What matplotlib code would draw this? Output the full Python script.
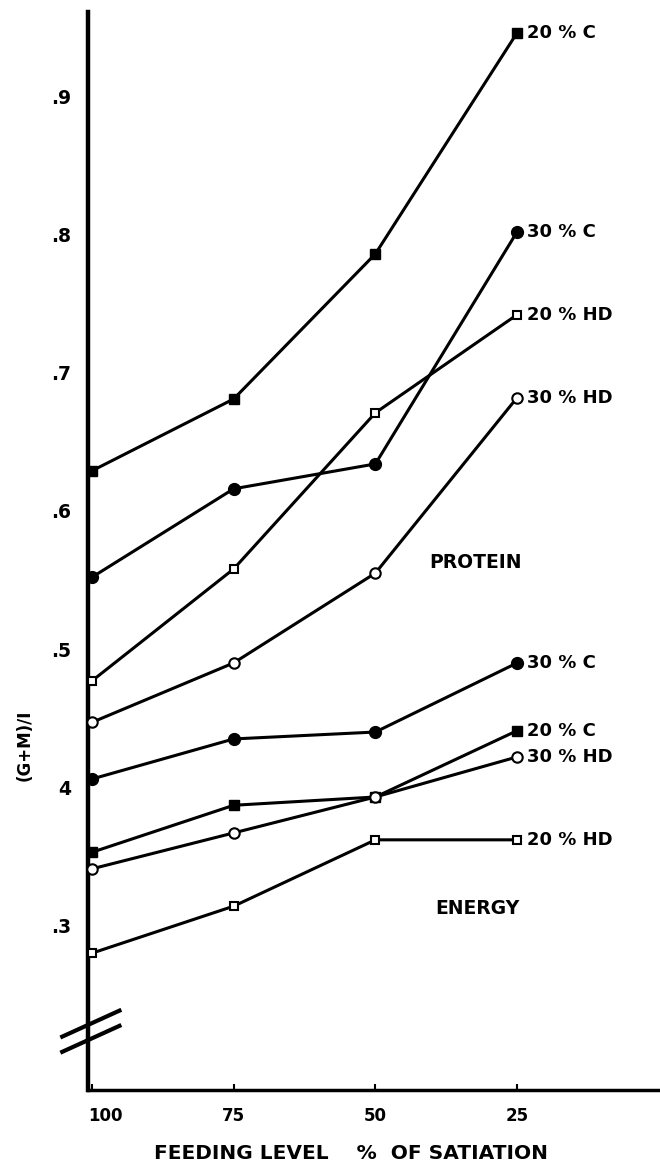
import matplotlib.pyplot as plt
from matplotlib.lines import Line2D
from matplotlib.transforms import ScaledTranslation

# Feeding level (% of satiation)
feeding = [100, 75, 50, 25]

# Protein: (G+M)/I
prot_20c = [0.629, 0.681, 0.786, 0.946]
prot_30c = [0.552, 0.616, 0.634, 0.802]
prot_20hd = [0.477, 0.558, 0.671, 0.742]
prot_30hd = [0.447, 0.490, 0.555, 0.682]

# Energy: (G+M)/I
en_30c = [0.406, 0.435, 0.440, 0.490]
en_20c = [0.353, 0.387, 0.393, 0.441]
en_30hd = [0.341, 0.367, 0.393, 0.422]
en_20hd = [0.280, 0.314, 0.362, 0.362]

yticks = [0.3, 0.4, 0.5, 0.6, 0.7, 0.8, 0.9]
ytick_labels = ['.3', '4', '.5', '.6', '.7', '.8', '.9']

plt.rcParams['font.family'] = ['DejaVu Sans']
plt.rcParams['font.weight'] = 'bold'

fig = plt.figure(figsize=(6.6, 11.65), dpi=100)
ax = fig.add_axes([0.1333, 0.0644, 0.8667, 0.9253])

styles = {
    'sq_f': dict(marker='s', ms=7.5, mfc='black', mec='black'),
    'ci_f': dict(marker='o', ms=8.5, mfc='black', mec='black'),
    'sq_o': dict(marker='s', ms=6, mfc='white', mec='black', mew=1.5),
    'ci_o': dict(marker='o', ms=7.5, mfc='white', mec='black', mew=1.5),
}

series = [
    (prot_20c, 'sq_f', '20 % C'),
    (prot_30c, 'ci_f', '30 % C'),
    (prot_20hd, 'sq_o', '20 % HD'),
    (prot_30hd, 'ci_o', '30 % HD'),
    (en_30c, 'ci_f', '30 % C'),
    (en_20c, 'sq_f', '20 % C'),
    (en_30hd, 'ci_o', '30 % HD'),
    (en_20hd, 'sq_o', '20 % HD'),
]

for vals, st, lab in series:
    ax.plot(feeding, vals, color='black', lw=2.2, zorder=3, **styles[st])
    ax.annotate(lab, xy=(feeding[-1], vals[-1]), xytext=(7, 0),
                textcoords='offset points', va='center', ha='left',
                fontsize=13, fontweight='bold')

ax.text(32.4, 0.563, 'PROTEIN', fontsize=13.5, fontweight='bold', ha='center', va='center')
ax.text(32, 0.312, 'ENERGY', fontsize=13.5, fontweight='bold', ha='center', va='center')

ax.set_xlim(100.7, -0.2)
ax.set_ylim(0.181, 0.961)

for s in ['top', 'right']:
    ax.spines[s].set_visible(False)
ax.spines['left'].set_linewidth(3.2)
ax.spines['bottom'].set_linewidth(2.5)

ax.set_yticks(yticks)
ax.set_yticklabels(ytick_labels, fontsize=13.5, fontweight='bold')
ax.tick_params(axis='y', length=0, pad=12)
ax.set_xticks(feeding)
ax.set_xticklabels([str(f) for f in feeding], fontsize=12, fontweight='bold')
ax.tick_params(axis='x', direction='in', length=4, width=1.5, pad=12)
first = ax.get_xticklabels()[0]
first.set_transform(first.get_transform() + ScaledTranslation(0.13, 0, fig.dpi_scale_trans))

ax.set_ylabel('(G+M)/I', fontsize=12, fontweight='bold')
ax.yaxis.set_label_coords(-0.095, 0.32)
ax.set_xlabel('FEEDING LEVEL    %  OF SATIATION', fontsize=14.5, fontweight='bold')
ax.xaxis.set_label_coords(0.46, -0.05)

# axis break marks
for yb in [0.229, 0.218]:
    ax.add_line(Line2D([-0.045, 0.055], [yb - 0.0094, yb + 0.0094], transform=ax.get_yaxis_transform(),
                       color='black', lw=3, clip_on=False))

fig.savefig('out.png', dpi=100)
